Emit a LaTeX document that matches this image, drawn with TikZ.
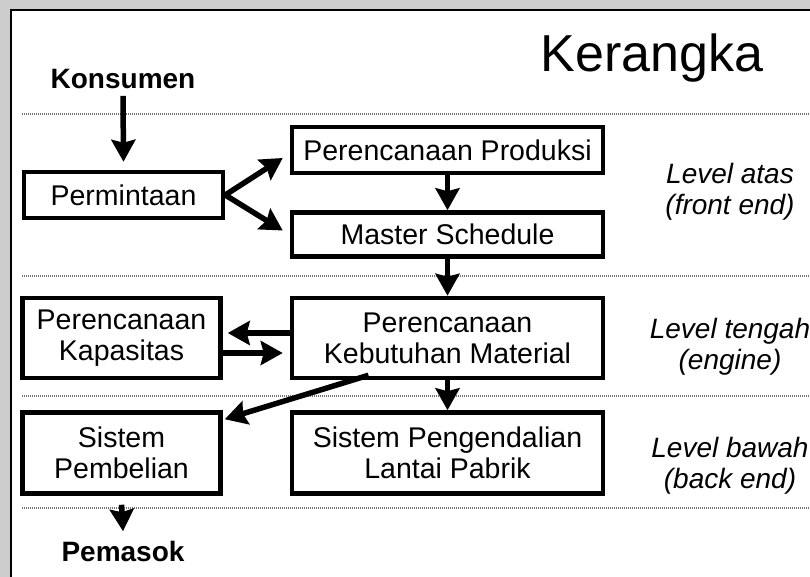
\documentclass[tikz,border=0pt]{standalone}
\usepackage{fontspec}
\setmainfont{Liberation Sans}
\usetikzlibrary{positioning,arrows.meta}

\begin{document}
\begin{tikzpicture}[x=1pt,y=-1pt]
    \tikzstyle{block} = [rectangle, draw, line width=4.5pt, align=center,
               inner sep=0pt, font=\fontsize{28.5}{31}\selectfont]
    \tikzstyle{line} = [draw, line width=5.5pt,
               -{Stealth[length=22pt,width=24pt,inset=3pt]}]
    \tikzstyle{level} = [align=center, font=\fontsize{28}{31}\selectfont\itshape]
    \tikzstyle{ends} = [font=\fontsize{28}{31}\selectfont\bfseries, anchor=base]
    \tikzstyle{sep} = [draw=black!55, line width=1.3pt, dash pattern=on 1pt off 1pt]

    % Frame
    \useasboundingbox (0,0) rectangle (810,577);
    \fill[black!20] (0,0) rectangle (810,577);
    \filldraw[fill=white, draw=black, line width=2.5pt] (11,10) rectangle (840,600);

    \node[font=\fontsize{52}{56}\selectfont, anchor=base] (title) at (652,72) {Kerangka};

    % Level separators
    \foreach \y in {114,276,396,508}
      \draw[sep] (22,\y) -- (810,\y);

    % Blocks
    \node[block, minimum width=199pt, minimum height=46pt] (perm) at (123.5,195) {Permintaan};
    \node[block, minimum width=311pt, minimum height=46pt] (pp) at (447.5,150) {Perencanaan Produksi};
    \node[block, minimum width=311pt, minimum height=44pt, below=35pt of pp] (ms) {Master Schedule};
    \node[block, minimum width=311pt, minimum height=80pt, below=37pt of ms] (pkm)
      {Perencanaan\\Kebutuhan Material};
    \node[block, minimum width=311pt, minimum height=81pt, below=30pt of pkm] (splp)
      {Sistem Pengendalian\\Lantai Pabrik};
    \node[block, minimum width=198pt, minimum height=80pt, left=67pt of pkm] (pk)
      {Perencanaan\\Kapasitas};
    \node[block, minimum width=198pt, minimum height=81pt, left=67pt of splp] (sp)
      {Sistem\\Pembelian};

    \node[ends] (konsumen) at (123,89) {Konsumen};
    \node[ends] (pemasok) at (123,561) {Pemasok};

    \node[level] (atas) at (730,192) {Level atas\\(front end)};
    \node[level] (tengah) at (730,347) {Level tengah\\(engine)};
    \node[level] (bawah) at (730,466) {Level bawah\\(back end)};

    % Arrows
    \draw[line] ([yshift=-3pt]konsumen.south) -- ([yshift=8pt]perm.north);
    \draw[line] (perm.east) -- ([xshift=-7pt,yshift=-8pt]pp.west);
    \draw[line] (perm.east) -- ([xshift=-7pt,yshift=4pt]ms.west);
    \draw[line] (pp) -- (ms);
    \draw[line] (ms) -- (pkm);
    \draw[line] (pkm) -- (splp);
    \draw[line] ([yshift=5pt]pkm.west) -- ([xshift=5pt,yshift=5pt]pk.east);
    \draw[line] ([yshift=-15pt]pk.east) -- ([xshift=-7pt,yshift=-15pt]pkm.west);
    \draw[line] ([xshift=-79pt,yshift=5pt]pkm.south) -- ([xshift=2pt,yshift=-9pt]sp.north east);
    \draw[line] ([yshift=-9pt]sp.south) -- ([yshift=6pt]pemasok.north);
\end{tikzpicture}
\end{document}
